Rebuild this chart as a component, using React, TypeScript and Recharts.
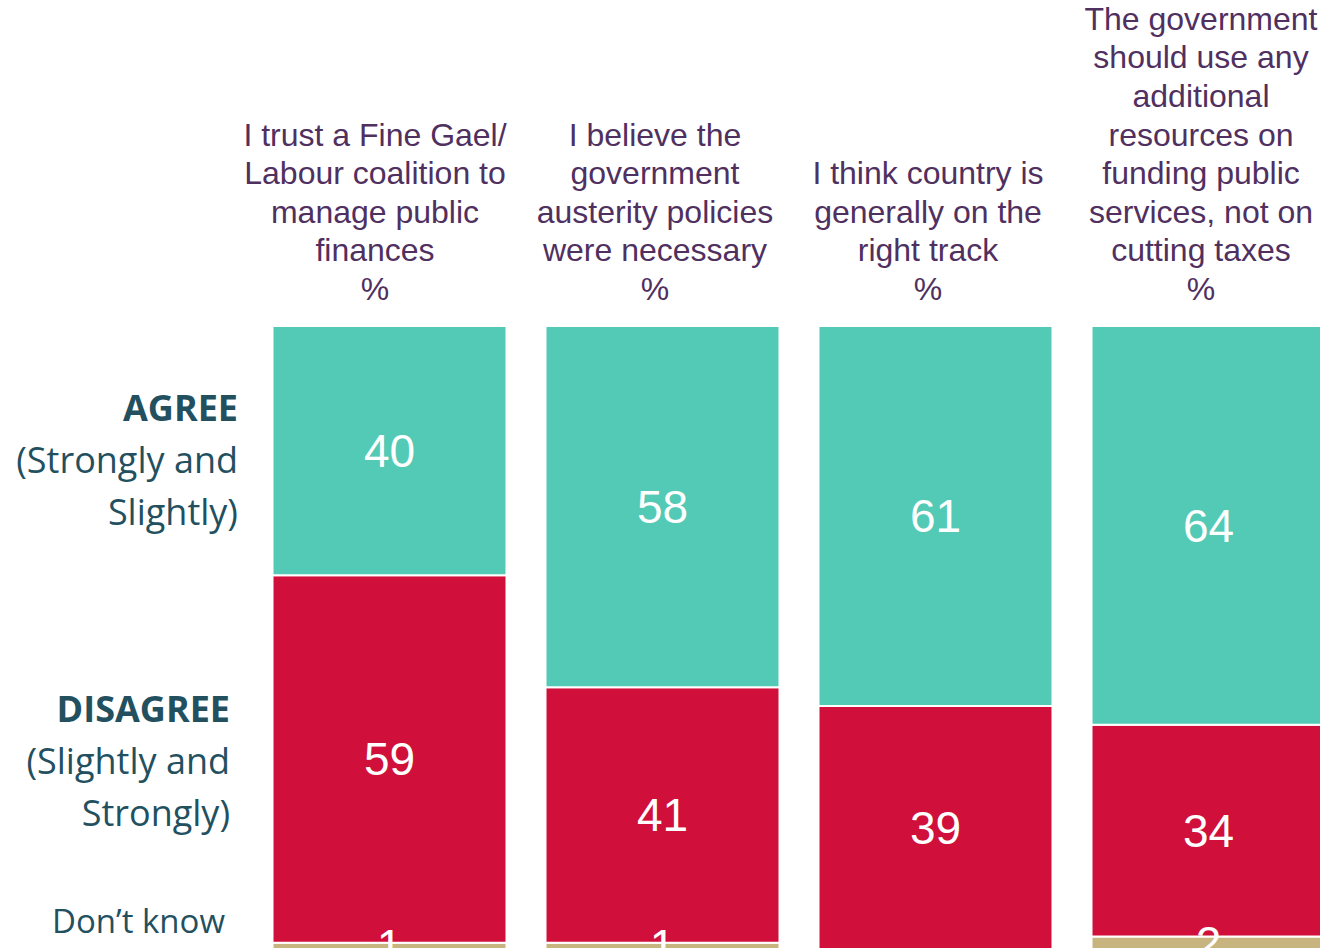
import React from "react";
import { BarChart, Bar, XAxis, YAxis, LabelList } from "recharts";

const headerLines: string[][] = [
  ["I trust a Fine Gael/", "Labour coalition to", "manage public", "finances", "%"],
  ["I believe the", "government", "austerity policies", "were necessary", "%"],
  ["I think country is", "generally on the", "right track", "%"],
  [
    "The government",
    "should use any",
    "additional",
    "resources on",
    "funding public",
    "services, not on",
    "cutting taxes",
    "%",
  ],
];
const categories = headerLines.map((l) => l.join(" "));
const agree = [40, 58, 61, 64];
const disagree = [59, 41, 39, 34];
const dontKnow = [1, 1, 0, 2];

const data = categories.map((name, i) => ({
  name,
  agree: agree[i],
  disagree: disagree[i],
  dontKnow: dontKnow[i],
}));

const HeaderTick = (props: any) => {
  const { x, y, index } = props;
  const lines = headerLines[index] || [];
  const n = lines.length;
  const shift = index === 0 ? -14 : -7;
  return (
    <g>
      {lines.map((line, i) => (
        <text
          key={i}
          x={x + shift}
          y={y - 18 - (n - 1 - i) * 38.6}
          textAnchor="middle"
          fill="#50305f"
          fontSize={32}
          fontFamily="'Liberation Sans', Arial, sans-serif"
        >
          {line}
        </text>
      ))}
    </g>
  );
};

const sideStyle: React.CSSProperties = {
  position: "absolute",
  textAlign: "right",
  color: "#23505f",
  fontFamily: "'Open Sans', 'Noto Sans', sans-serif",
  fontSize: 36,
  lineHeight: "52px",
  whiteSpace: "nowrap",
};

export default function App() {
  return (
    <div
      style={{
        position: "fixed",
        left: 0,
        top: 0,
        width: 1320,
        height: 949,
        overflow: "hidden",
        background: "#fff",
      }}
    >
      <BarChart
        width={1350}
        height={949}
        data={data}
        margin={{ top: 296, right: 5.5, bottom: 0, left: 252.5 }}
      >
        <XAxis
          dataKey="name"
          orientation="top"
          axisLine={false}
          tickLine={false}
          height={30}
          interval={0}
          tick={<HeaderTick />}
        />
        <YAxis hide domain={[0, 100]} />
        <Bar dataKey="dontKnow" stackId="a" fill="#c8b47e" stroke="#fff" strokeWidth={2} barSize={234} isAnimationActive={false}>
          <LabelList dataKey="dontKnow" position="center" fill="#fff" fontSize={46} fontFamily="'Liberation Sans', Arial, sans-serif" />
        </Bar>
        <Bar dataKey="disagree" stackId="a" fill="#d0103a" stroke="#fff" strokeWidth={2} barSize={234} isAnimationActive={false}>
          <LabelList dataKey="disagree" position="center" fill="#fff" fontSize={46} fontFamily="'Liberation Sans', Arial, sans-serif" />
        </Bar>
        <Bar dataKey="agree" stackId="a" fill="#53cab6" stroke="#fff" strokeWidth={2} barSize={234} isAnimationActive={false}>
          <LabelList dataKey="agree" position="center" fill="#fff" fontSize={46} fontFamily="'Liberation Sans', Arial, sans-serif" />
        </Bar>
      </BarChart>
      <div style={{ ...sideStyle, right: 1320 - 238, top: 382 }}>
        <b>AGREE</b>
        <br />
        (Strongly and
        <br />
        Slightly)
      </div>
      <div style={{ ...sideStyle, right: 1320 - 230, top: 683 }}>
        <b>DISAGREE</b>
        <br />
        (Slightly and
        <br />
        Strongly)
      </div>
      <div style={{ ...sideStyle, right: 1320 - 225, top: 895, fontSize: 33 }}>
        Don’t know
      </div>
    </div>
  );
}
